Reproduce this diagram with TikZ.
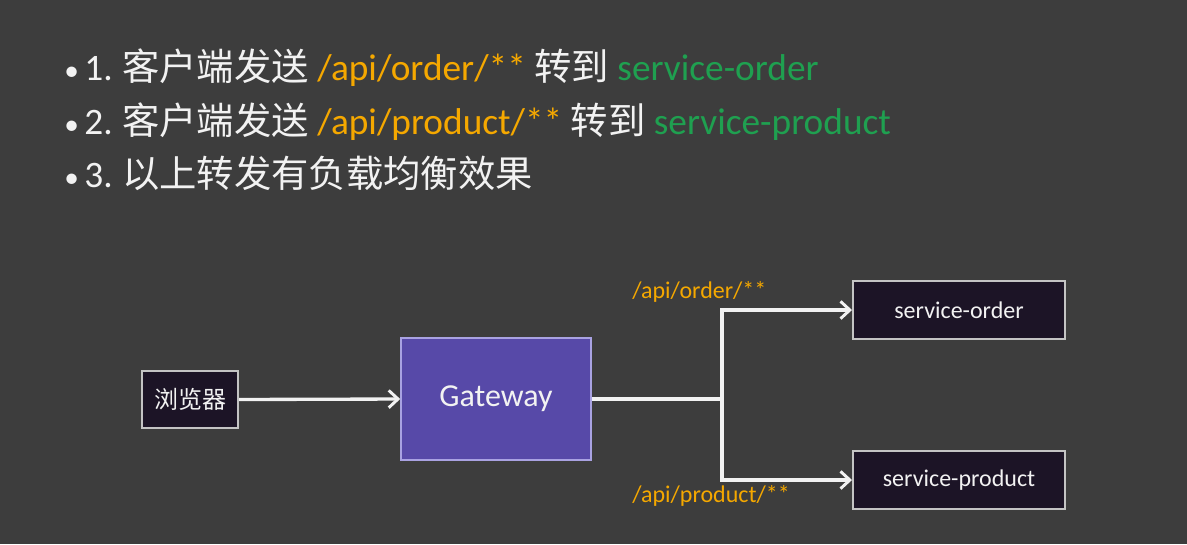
\documentclass[tikz,border=0pt]{standalone}
\usepackage{fontspec}
\setmainfont{Carlito}
\newfontfamily\cjk{Noto Sans CJK SC}
\usetikzlibrary{arrows.meta}
\definecolor{bg}{HTML}{3D3D3D}
\definecolor{txt}{HTML}{F2F2F2}
\definecolor{orangec}{HTML}{F5A800}
\definecolor{greenc}{HTML}{1FA050}
\definecolor{darkfill}{HTML}{1C1426}
\definecolor{boxborder}{HTML}{C4C4C4}
\definecolor{gwfill}{HTML}{5749A8}
\definecolor{gwborder}{HTML}{A9A2E2}
\newcommand{\zh}[1]{{\cjk #1}}
\tikzset{
  x=0.75pt, y=-0.75pt,
  bullet/.style={anchor=base west, inner sep=0pt, text=txt, font=\fontsize{28}{32}\selectfont},
  darkbox/.style={draw=boxborder, fill=darkfill, line width=1.5pt, inner sep=0pt, text=txt, font=\fontsize{18}{22}\selectfont},
  gwbox/.style={draw=gwborder, fill=gwfill, line width=1.2pt, inner sep=0pt, text=txt, font=\fontsize{24}{28}\selectfont, minimum width=142.5pt, minimum height=91.5pt},
  svcbox/.style={darkbox, minimum width=159pt, minimum height=43.5pt},
  routelabel/.style={anchor=base west, inner sep=0pt, text=orangec, font=\fontsize{18}{22}\selectfont},
  conn/.style={draw=txt, line width=2.5pt},
  arr/.style={conn, -{Straight Barb[length=7pt,width=13pt,line width=2.2pt]}},
}
\begin{document}
\begin{tikzpicture}
\fill[bg] (0,0) rectangle (1187,544);
\useasboundingbox (0,0) rectangle (1187,544);

\node[bullet] (l1) at (64,80) {{\fontsize{22}{26}\selectfont •}\hspace{0.15em}1.\hspace{0.25em}\zh{客户端发送} \textcolor{orangec}{/api/order/**} \zh{转到} \textcolor{greenc}{service-order}};
\node[bullet] (l2) at (64,134) {{\fontsize{22}{26}\selectfont •}\hspace{0.15em}2.\hspace{0.25em}\zh{客户端发送} \textcolor{orangec}{/api/product/**} \zh{转到} \textcolor{greenc}{service-product}};
\node[bullet] (l3) at (64,187) {{\fontsize{22}{26}\selectfont •}\hspace{0.15em}3.\hspace{0.25em}\zh{以上转发有负载均衡效果}};

\node[darkbox, minimum width=72pt, minimum height=42.75pt, font=\cjk\fontsize{18}{22}\selectfont] (browser) at (190,399.5) {浏览器};
\node[gwbox] (gw) at (496,399) {\raisebox{-2pt}{Gateway}};
\node[svcbox] (order) at (959,310) {service-order};
\node[svcbox] (product) at (959,480) {service-product};

\coordinate (split) at (722,399);
\draw[arr] (browser.east) -- (gw.west);
\draw[conn] (gw.east) -- (split);
\draw[arr] (split) |- (order.west);
\draw[arr] (split) |- (product.west);

\node[routelabel] (lo) at (632,298) {/api/order/**};
\node[routelabel] (lp) at (632,502) {/api/product/**};
\end{tikzpicture}
\end{document}
